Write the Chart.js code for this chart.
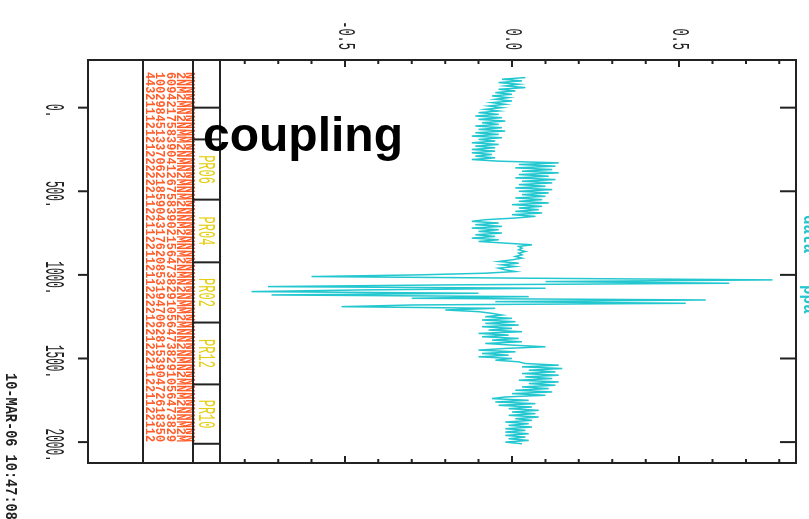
<!DOCTYPE html>
<html>
<head>
<meta charset="utf-8">
<script src="https://cdn.jsdelivr.net/npm/chart.js@4.4.1/dist/chart.umd.min.js"></script>
<style>
html, body { margin: 0; padding: 0; background: #fff; overflow: hidden; }
body { width: 809px; height: 519px; position: relative; }
/* the plot is drawn upright and then turned a quarter clockwise */
#plotBox { position: absolute; left: 0; top: 0; width: 519px; height: 809px;
           transform-origin: 0 0; transform: translate(809px, 0) rotate(90deg); }
#tag { position: absolute; left: 203px; top: 111px; color: #000;
       font: bold 48px "Liberation Sans", Arial, sans-serif; line-height: 48px; }
</style>
</head>
<body>
<div id="plotBox"><canvas id="trace" width="519" height="809" style="width:519px;height:809px"></canvas></div>
<div id="tag">coupling</div>
<script>
// sample positions along the acquisition axis
var positions = [
    -180, -170, -160, -150, -140, -130, -120, -110, -100, -90,
    -80, -70, -60, -50, -40, -30, -20, -10, 0, 10,
    20, 30, 40, 50, 60, 70, 80, 90, 100, 110,
    120, 130, 140, 150, 160, 170, 180, 190, 200, 210,
    220, 230, 240, 250, 260, 270, 280, 290, 300, 310,
    320, 330, 340, 350, 360, 370, 380, 390, 400, 410,
    420, 430, 440, 450, 460, 470, 480, 490, 500, 510,
    520, 530, 540, 550, 560, 570, 580, 590, 600, 610,
    620, 630, 640, 650, 660, 670, 680, 690, 700, 710,
    720, 730, 740, 750, 760, 770, 780, 790, 800, 810,
    820, 830, 840, 850, 860, 870, 880, 890, 900, 910,
    920, 930, 940, 950, 960, 970, 980, 990, 1000, 1010,
    1020, 1030, 1040, 1050, 1060, 1070, 1080, 1090, 1100, 1110,
    1120, 1130, 1140, 1150, 1160, 1170, 1180, 1190, 1200, 1210,
    1220, 1230, 1240, 1250, 1260, 1270, 1280, 1290, 1300, 1310,
    1320, 1330, 1340, 1350, 1360, 1370, 1380, 1390, 1400, 1410,
    1420, 1430, 1440, 1450, 1460, 1470, 1480, 1490, 1500, 1510,
    1520, 1530, 1540, 1550, 1560, 1570, 1580, 1590, 1600, 1610,
    1620, 1630, 1640, 1650, 1660, 1670, 1680, 1690, 1700, 1710,
    1720, 1730, 1740, 1750, 1760, 1770, 1780, 1790, 1800, 1810,
    1820, 1830, 1840, 1850, 1860, 1870, 1880, 1890, 1900, 1910,
    1920, 1930, 1940, 1950, 1960, 1970, 1980, 1990, 2000, 2010
];

// signal amplitude at each position
var amplitude = [
    0.04, -0.03, 0.03, -0.04, 0.02, -0.02, 0.04, -0.04, 0.01, -0.05,
    0.00, -0.06, -0.01, -0.05, 0.00, -0.06, -0.02, -0.07, -0.03, -0.08,
    -0.04, -0.10, -0.04, -0.11, -0.03, -0.10, -0.02, -0.09, -0.04, -0.11,
    -0.03, -0.10, -0.02, -0.11, -0.04, -0.12, -0.03, -0.10, -0.05, -0.12,
    -0.04, -0.11, -0.05, -0.12, -0.05, -0.12, -0.06, -0.11, -0.05, -0.12,
    -0.04, 0.14, 0.02, 0.13, 0.01, 0.12, 0.03, 0.14, 0.02, 0.11,
    0.01, 0.13, 0.03, 0.12, 0.02, 0.10, 0.01, 0.12, 0.02, 0.11,
    0.03, 0.10, 0.01, 0.09, 0.02, 0.11, 0.00, 0.09, 0.02, 0.08,
    0.01, 0.09, 0.00, 0.07, 0.01, -0.08, -0.12, -0.04, -0.11, -0.03,
    -0.12, -0.04, -0.10, -0.03, -0.11, -0.05, -0.12, -0.04, -0.10, -0.02,
    0.06, 0.02, 0.03, 0.02, 0.04, 0.02, 0.03, 0.01, 0.03, 0.00,
    -0.04, 0.02, -0.03, 0.01, -0.04, -0.02, 0.01, -0.08, -0.28, -0.60,
    0.05, 0.78, 0.10, 0.65, -0.20, -0.73, 0.10, -0.45, -0.78, -0.10,
    -0.72, 0.05, -0.30, 0.58, -0.05, 0.52, -0.30, -0.51, -0.05, -0.20,
    -0.10, -0.06, -0.03, -0.08, 0.00, -0.09, 0.01, -0.08, 0.02, -0.09,
    0.00, -0.07, 0.03, -0.10, -0.01, -0.09, 0.02, -0.06, 0.03, -0.08,
    0.00, 0.10, -0.02, -0.10, 0.01, -0.09, -0.01, -0.10, 0.00, -0.05,
    0.02, 0.04, 0.14, 0.03, 0.15, 0.05, 0.13, 0.03, 0.14, 0.04,
    0.12, 0.02, 0.14, 0.05, 0.13, 0.03, 0.11, 0.01, 0.12, 0.00,
    0.10, -0.02, -0.06, 0.05, -0.05, 0.07, -0.04, 0.06, -0.01, 0.08,
    0.00, 0.07, -0.01, 0.08, 0.01, 0.06, -0.02, 0.05, -0.01, 0.06,
    -0.02, 0.04, -0.02, 0.05, -0.02, 0.04, -0.01, 0.05, -0.02, 0.03
];

var positionTicks = [0, 500, 1000, 1500, 2000];
var positionLabels = ['0.', '500.', '1000.', '1500.', '2000.'];
var amplitudeTicks = [-0.5, 0.0, 0.5];
var amplitudeLabels = ['-0.5', '0.0', '0.5'];
var amplitudeMinorTicks = [-0.8, -0.7, -0.6, -0.5, -0.4, -0.3, -0.2, -0.1, 0.0,
    0.1, 0.2, 0.3, 0.4, 0.5, 0.6, 0.7, 0.8];

// pulse program blocks under the trace
var blockBreaks = [0, 190, 550, 925, 1285, 1655, 2010];
var blockNames = ['', 'PR06', 'PR04', 'PR02', 'PR12', 'PR10'];

// event code listing printed in the strip
var codeLines = [
    '4432111212122222211221122112112222122122211221122112',
    '1002984513370621859043176208531947062815390472618350',
    '6094217583904126758390215647382910564738291056473829',
    '2NM2MN2NMM2NMN2MNM2NNM2MNM2NMN2NMM2MNN2NMN2MNM2NNM2M',
    'NNNNNNNNNNNNNNNNNNNNNNNNNNNNNNNNNNNNNNNNNNNNNNNNNNNN'
];

var stamp = '10-MAR-06 10:47:08';
var traceName = ['data', 'ppa'];

var points = positions.map(function (p, i) {
    return { x: p, y: amplitude[i] };
});

function condensedText(ctx, text, x, y, squeeze, align) {
    ctx.save();
    ctx.translate(x, y);
    ctx.scale(squeeze, 1);
    ctx.textAlign = align;
    ctx.fillText(text, 0, 0);
    ctx.restore();
}

var framePlugin = {
    id: 'framePlugin',
    afterDraw: function (chart) {
        var ctx = chart.ctx;
        var xs = chart.scales.x;
        var ys = chart.scales.y;
        var a = chart.chartArea;
        var stripEdge = a.bottom + 27;
        var codeEdge = a.bottom + 77;
        var outerEdge = a.bottom + 132;

        ctx.save();

        // program block names
        ctx.fillStyle = '#e4cf14';
        ctx.font = '24px "Liberation Mono", monospace';
        ctx.textBaseline = 'alphabetic';
        for (var i = 1; i < blockNames.length; i++) {
            var mid = (blockBreaks[i] + blockBreaks[i + 1]) / 2;
            condensedText(ctx, blockNames[i], xs.getPixelForValue(mid), a.bottom + 21, 0.5, 'center');
        }

        // code listing
        ctx.fillStyle = 'rgba(255, 80, 25, 0.92)';
        ctx.font = 'bold 12px "Liberation Mono", monospace';
        ctx.textAlign = 'left';
        var lineBase = [codeEdge - 3, codeEdge - 13, codeEdge - 24, codeEdge - 34, codeEdge - 43];
        codeLines.forEach(function (line, k) {
            ctx.fillText(line, a.left + 12, lineBase[k], 370);
        });

        // frame and dividers
        ctx.strokeStyle = '#222';
        ctx.lineWidth = 2;
        ctx.beginPath();
        ctx.rect(a.left, a.top, a.right - a.left, outerEdge - a.top);
        ctx.moveTo(a.left, a.bottom); ctx.lineTo(a.right, a.bottom);
        ctx.moveTo(a.left, stripEdge); ctx.lineTo(a.right, stripEdge);
        ctx.moveTo(a.left, codeEdge); ctx.lineTo(a.right, codeEdge);
        blockBreaks.forEach(function (b) {
            var px = xs.getPixelForValue(b);
            ctx.moveTo(px, a.bottom); ctx.lineTo(px, stripEdge);
        });
        ctx.stroke();

        // position ticks: outward below, inward on top edge
        ctx.beginPath();
        positionTicks.forEach(function (v) {
            var px = xs.getPixelForValue(v);
            ctx.moveTo(px, outerEdge); ctx.lineTo(px, outerEdge + 10);
            ctx.moveTo(px, a.top); ctx.lineTo(px, a.top + 16);
        });
        // amplitude ticks on both side edges
        amplitudeMinorTicks.forEach(function (v) {
            var py = ys.getPixelForValue(v);
            var len = amplitudeTicks.indexOf(v) >= 0 ? 7 : 4;
            ctx.moveTo(a.left, py); ctx.lineTo(a.left + len, py);
            ctx.moveTo(a.right, py); ctx.lineTo(a.right - len, py);
        });
        ctx.stroke();

        // tick labels
        ctx.fillStyle = '#222';
        ctx.font = '27px "Liberation Mono", monospace';
        ctx.textBaseline = 'alphabetic';
        positionTicks.forEach(function (v, i) {
            condensedText(ctx, positionLabels[i], xs.getPixelForValue(v) + 3, outerEdge + 42, 0.41, 'center');
        });
        ctx.font = '24px "Liberation Mono", monospace';
        ctx.textBaseline = 'middle';
        amplitudeTicks.forEach(function (v, i) {
            condensedText(ctx, amplitudeLabels[i], a.left - 10, ys.getPixelForValue(v), 0.5, 'right');
        });

        // time stamp
        ctx.fillStyle = '#222';
        ctx.font = 'bold 17px "Liberation Mono", monospace';
        ctx.textBaseline = 'alphabetic';
        condensedText(ctx, stamp, 373, outerEdge + 82, 0.8, 'left');

        // trace name, mostly beyond the top edge
        ctx.fillStyle = '#22c7cf';
        ctx.font = 'bold 20px "Liberation Mono", monospace';
        condensedText(ctx, traceName[0], 215, 5, 0.8, 'left');
        condensedText(ctx, traceName[1], 285, 5, 0.8, 'left');

        ctx.restore();
    }
};

new Chart(document.getElementById('trace').getContext('2d'), {
    type: 'line',
    data: {
        datasets: [{
            data: points,
            borderColor: '#22c7cf',
            borderWidth: 1.5,
            pointRadius: 0,
            tension: 0,
            fill: false
        }]
    },
    options: {
        responsive: false,
        animation: false,
        devicePixelRatio: 1,
        layout: { padding: { left: 60, right: 56, top: 13, bottom: 220 } },
        plugins: { legend: { display: false }, tooltip: { enabled: false } },
        scales: {
            x: {
                type: 'linear',
                min: -285,
                max: 2125,
                grid: { display: false },
                border: { display: false },
                ticks: { display: false },
                afterBuildTicks: function (s) { s.ticks = positionTicks.map(function (v) { return { value: v }; }); },
                afterFit: function (s) { s.height = 0; }
            },
            y: {
                type: 'linear',
                min: -0.874,
                max: 0.850,
                grid: { display: false },
                border: { display: false },
                ticks: { display: false },
                afterBuildTicks: function (s) { s.ticks = amplitudeTicks.map(function (v) { return { value: v }; }); },
                afterFit: function (s) { s.width = 0; }
            }
        }
    },
    plugins: [framePlugin]
});
</script>
</body>
</html>
